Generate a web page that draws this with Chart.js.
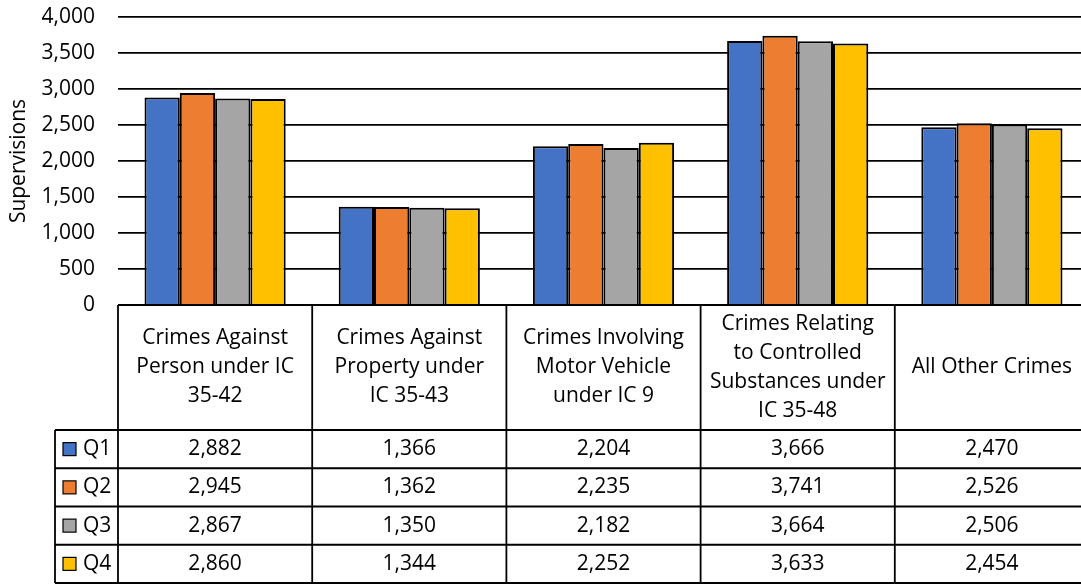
<!DOCTYPE html>
<html>
<head>
<meta charset="utf-8">
<script src="https://cdn.jsdelivr.net/npm/chart.js@4.4.1/dist/chart.umd.min.js"></script>
<style>
    html, body { margin: 0; padding: 0; overflow: hidden; background: #fff; }
    #wrap { width: 1089px; height: 584px; position: relative; }
</style>
</head>
<body>
<div id="wrap"><canvas id="crimesChart"></canvas></div>
<script>
const categories = [
    ['Crimes Against', 'Person under IC', '35-42'],
    ['Crimes Against', 'Property under', 'IC 35-43'],
    ['Crimes Involving', 'Motor Vehicle', 'under IC 9'],
    ['Crimes Relating', 'to Controlled', 'Substances under', 'IC 35-48'],
    ['All Other Crimes']
];
const seriesNames = ['Q1', 'Q2', 'Q3', 'Q4'];
const q1Values = [2882, 1366, 2204, 3666, 2470];
const q2Values = [2945, 1362, 2235, 3741, 2526];
const q3Values = [2867, 1350, 2182, 3664, 2506];
const q4Values = [2860, 1344, 2252, 3633, 2454];
const seriesColors = ['#4472C4', '#ED7D31', '#A5A5A5', '#FFC000'];
const yMax = 4000;
const yStep = 500;

const FONT = "'Open Sans', sans-serif";
const fmt = (v) => v.toLocaleString('en-US');

barGraph();

function barGraph() {
    const seriesValues = [q1Values, q2Values, q3Values, q4Values];

    // excel style data table under the plot
    const dataTable = {
        id: 'dataTable',
        afterDraw(chart) {
            const ctx = chart.ctx;
            const area = chart.chartArea;
            const colW = (area.right - area.left) / categories.length;
            const headerBottom = 430;
            const tableBottom = 583;
            const rowH = (tableBottom - headerBottom) / seriesNames.length;
            const legendLeft = 55;

            ctx.save();
            ctx.strokeStyle = '#000';
            ctx.lineWidth = 1.8;
            ctx.beginPath();
            // horizontal lines
            ctx.moveTo(area.left, area.bottom);
            ctx.lineTo(area.right, area.bottom);
            for (let r = 0; r <= seriesNames.length; r++) {
                const y = headerBottom + r * rowH;
                ctx.moveTo(legendLeft, y);
                ctx.lineTo(area.right, y);
            }
            // vertical lines
            for (let c = 0; c <= categories.length; c++) {
                const x = area.left + c * colW;
                ctx.moveTo(x, area.bottom);
                ctx.lineTo(x, tableBottom);
            }
            ctx.moveTo(legendLeft, headerBottom);
            ctx.lineTo(legendLeft, tableBottom);
            ctx.stroke();

            ctx.fillStyle = '#000';
            ctx.font = '21px ' + FONT;
            ctx.textAlign = 'center';
            ctx.textBaseline = 'middle';

            // category header
            const lineH = 29;
            const headerMid = (area.bottom + headerBottom) / 2;
            categories.forEach((lines, c) => {
                const cx = area.left + (c + 0.5) * colW;
                const y0 = headerMid - (lines.length - 1) * lineH / 2;
                lines.forEach((txt, i) => ctx.fillText(txt, cx, y0 + i * lineH));
            });

            // value rows
            seriesNames.forEach((name, r) => {
                const cy = headerBottom + (r + 0.5) * rowH;
                seriesValues[r].forEach((v, c) => {
                    ctx.fillText(fmt(v), area.left + (c + 0.5) * colW, cy);
                });
                ctx.fillStyle = seriesColors[r];
                ctx.fillRect(63, cy - 6.5, 13, 13);
                ctx.lineWidth = 1.2;
                ctx.strokeRect(63, cy - 6.5, 13, 13);
                ctx.fillStyle = '#000';
                ctx.textAlign = 'left';
                ctx.fillText(name, 83, cy);
                ctx.textAlign = 'center';
            });
            ctx.restore();
        }
    };

    const ctx = document.getElementById('crimesChart').getContext('2d');
    const myChart = new Chart(ctx, {
        type: 'bar',
        plugins: [dataTable],
        data: {
            labels: categories.map(l => l.join(' ')),
            datasets: seriesNames.map((name, i) => ({
                label: name,
                data: seriesValues[i],
                backgroundColor: seriesColors[i],
                borderColor: '#000',
                borderWidth: 2,
                borderSkipped: 'bottom',
                barPercentage: 1,
                categoryPercentage: 0.727,
            }))
        },
        options: {
            responsive: true,
            maintainAspectRatio: false,
            animation: false,
            layout: {
                padding: { top: 17, right: 0, bottom: 279, left: 0 }
            },
            plugins: {
                legend: { display: false },
                tooltip: { enabled: false },
                title: { display: false }
            },
            scales: {
                x: {
                    display: false,
                    grid: { display: false }
                },
                y: {
                    min: 0,
                    max: yMax,
                    afterFit: function(scale) {
                        scale.width = 118;
                        scale.paddingTop = 0;
                        scale.paddingBottom = 0;
                    },
                    border: { display: false },
                    grid: {
                        color: '#000',
                        lineWidth: 1.8,
                        drawTicks: false
                    },
                    ticks: {
                        stepSize: yStep,
                        padding: 23,
                        color: '#000',
                        font: { family: FONT, size: 21 },
                        callback: function(value) {
                            return fmt(value);
                        }
                    },
                    title: {
                        display: true,
                        text: 'Supervisions',
                        color: '#000',
                        padding: { top: 6, bottom: 0 },
                        font: { family: FONT, size: 21 }
                    }
                }
            }
        }
    });
}
</script>
</body>
</html>
